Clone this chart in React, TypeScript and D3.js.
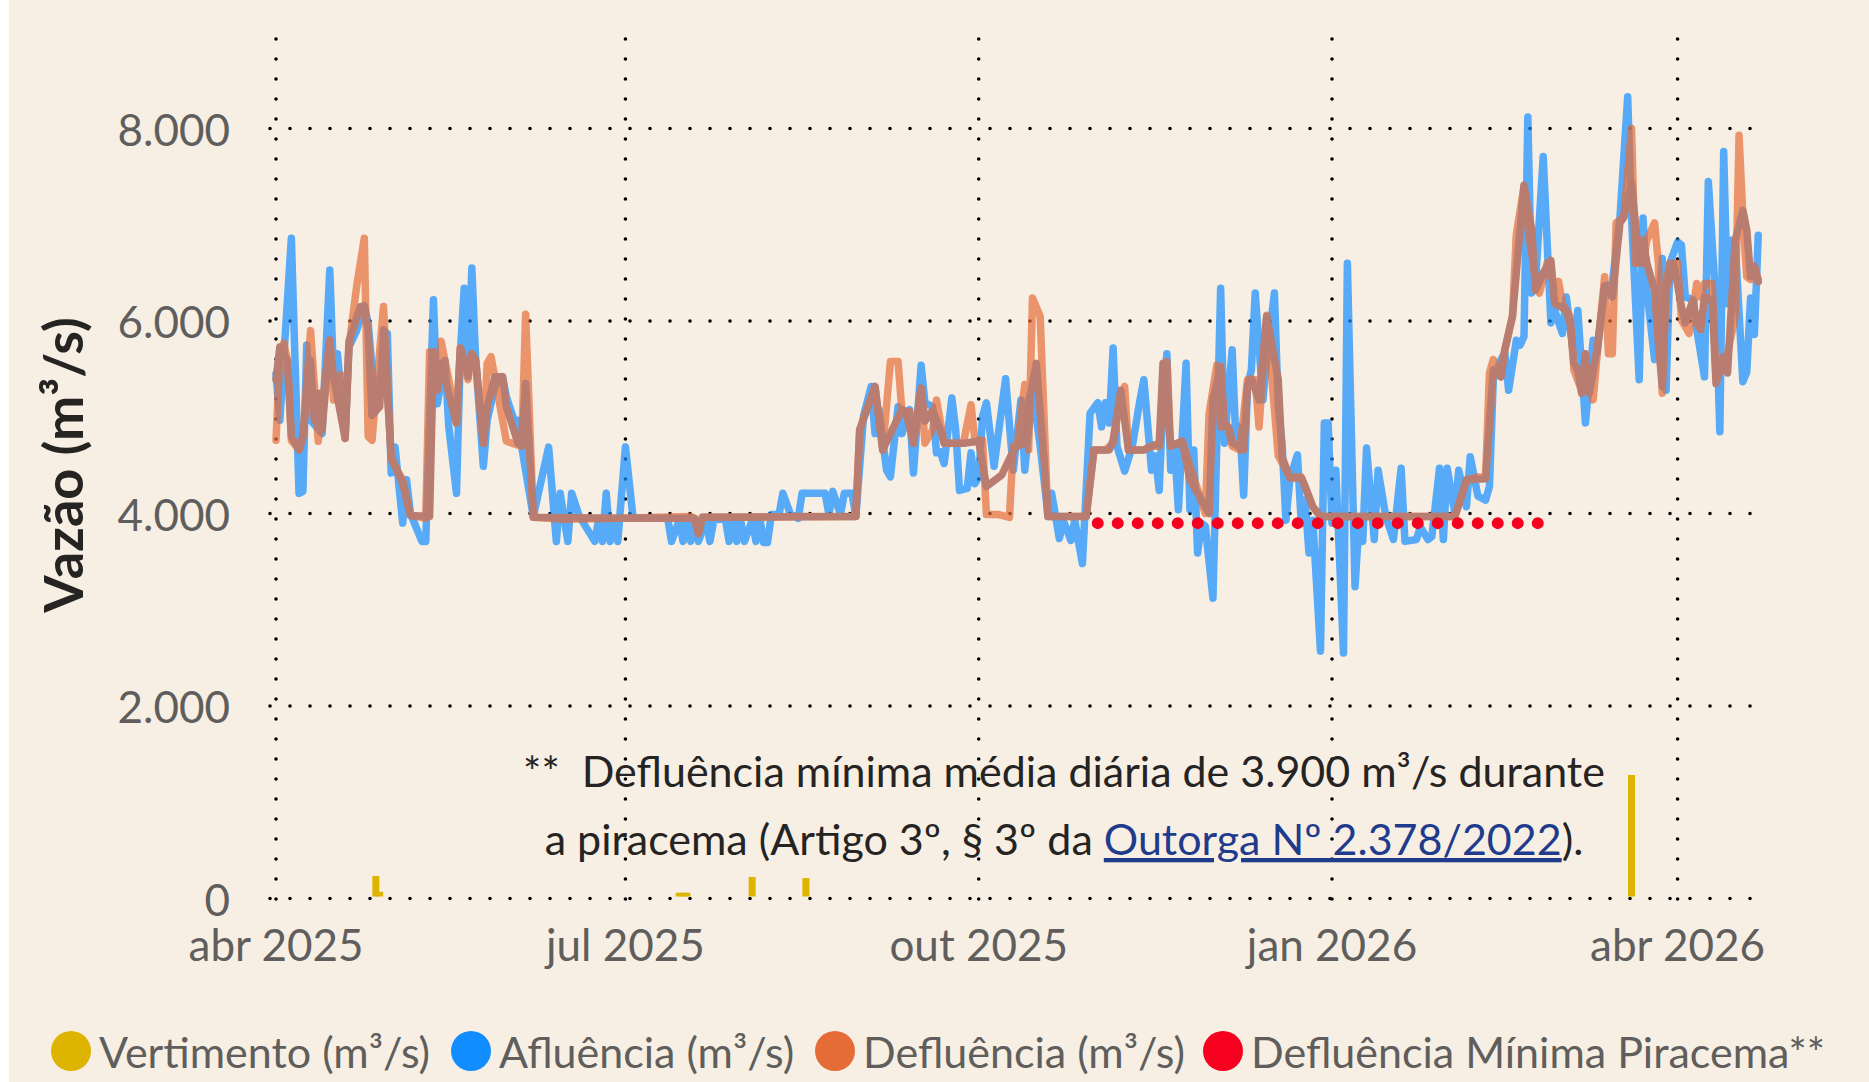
import React from 'react';
import * as d3 from 'd3';

const W = 1869;
const H = 1082;

// first day of the series (day index 0)
const inicio = new Date(2025, 3, 1);
const meses = ['jan', 'fev', 'mar', 'abr', 'mai', 'jun', 'jul', 'ago', 'set', 'out', 'nov', 'dez'];
const yTicks = [0, 2000, 4000, 6000, 8000];

// [day since inicio, m3/s]
const afluencia: [number, number][] = [
  [0, 5450], [1, 4970], [4, 6860], [6, 4210], [7, 4230], [8, 5750], [9, 4970], [12, 4830], [14, 6530], [15, 5420],
  [16, 5660], [18, 4800], [19, 5730], [21, 5900], [23, 6160], [24, 5970], [26, 5080], [29, 5870], [30, 4420], [31, 4690],
  [33, 3900], [34, 4350], [35, 4000], [38, 3710], [39, 3710], [41, 6220], [42, 5140], [44, 5590], [45, 4900], [47, 4210],
  [48, 5660], [49, 6340], [50, 5420], [51, 6550], [52, 5590], [54, 4490], [55, 4970], [57, 5320], [59, 5420], [60, 5210],
  [62, 4970], [63, 4970], [64, 4690], [67, 3970], [71, 4690], [73, 3710], [74, 4210], [76, 3710], [77, 4210], [79, 3970],
  [83, 3710], [84, 3930], [85, 3710], [86, 4210], [87, 3710], [88, 3930], [89, 3710], [91, 4690], [93, 3950], [102, 3950],
  [103, 3710], [105, 3930], [106, 3710], [107, 3930], [108, 3710], [109, 3930], [110, 3710], [112, 3930], [113, 3710], [114, 3930],
  [117, 3950], [118, 3710], [119, 3930], [120, 3710], [121, 3930], [122, 3710], [124, 3930], [125, 3710], [126, 3950], [127, 3700],
  [128, 3700], [129, 3990], [131, 3990], [132, 4210], [134, 3990], [136, 3950], [137, 4210], [143, 4210], [144, 3990], [145, 4230],
  [147, 3990], [148, 4210], [150, 4210], [151, 3970], [153, 5010], [155, 5320], [156, 4830], [157, 5080], [159, 4450], [160, 4380],
  [162, 5110], [163, 4830], [165, 5080], [166, 4420], [168, 5540], [169, 5150], [171, 5110], [172, 4630], [173, 4640], [174, 4520],
  [176, 5200], [177, 4870], [178, 4240], [180, 4260], [181, 4630], [182, 4310], [183, 4380], [184, 5010], [185, 5150], [187, 4490],
  [190, 5400], [192, 4450], [194, 5180], [195, 4450], [197, 5300], [199, 4700], [201, 4000], [202, 4210], [204, 3740], [205, 3930],
  [207, 3720], [208, 3930], [210, 3480], [212, 5040], [214, 5150], [215, 4900], [216, 5150], [217, 4940], [218, 5720], [219, 4700],
  [221, 4440], [223, 4700], [225, 5180], [226, 5390], [228, 4450], [229, 4600], [230, 4240], [231, 5180], [232, 5660], [233, 4450],
  [234, 4700], [235, 4040], [237, 5560], [238, 4040], [239, 4660], [240, 3590], [241, 3900], [242, 3870], [244, 3120], [246, 6340],
  [247, 4730], [249, 5700], [250, 4730], [251, 4900], [252, 4190], [253, 5320], [254, 5490], [255, 6290], [257, 5180], [258, 5600],
  [260, 6290], [261, 5110], [262, 4730], [263, 3930], [264, 4350], [266, 4610], [267, 3900], [268, 4140], [269, 3590], [270, 3930],
  [272, 2570], [273, 4940], [274, 4940], [275, 3900], [276, 4450], [278, 2550], [279, 6600], [281, 3240], [282, 3900], [283, 3710],
  [284, 4680], [286, 3730], [287, 4450], [289, 3970], [291, 3730], [293, 4470], [294, 3710], [297, 3730], [298, 3860], [300, 3730],
  [301, 3760], [303, 4470], [304, 3730], [305, 4470], [307, 4000], [308, 4450], [310, 4070], [311, 4590], [313, 4180], [315, 4140],
  [316, 4280], [317, 5390], [319, 5600], [320, 5670], [321, 5280], [323, 5800], [324, 5750], [325, 5840], [326, 8120], [327, 6290],
  [328, 6400], [330, 7710], [331, 6840], [332, 5980], [333, 6110], [335, 5870], [336, 6250], [338, 5630], [339, 6110], [341, 4940],
  [343, 5800], [344, 5660], [346, 6360], [348, 6390], [350, 7080], [352, 8330], [353, 7080], [355, 5390], [356, 7070], [357, 6320],
  [359, 5600], [361, 6650], [362, 5280], [363, 6600], [365, 6820], [366, 6790], [367, 6250], [369, 6220], [370, 5910], [372, 5420],
  [373, 7450], [375, 6180], [376, 4850], [377, 7760], [378, 6180], [379, 6840], [380, 6810], [382, 5370], [383, 5470], [384, 6240],
  [385, 5860], [386, 6890],
];

const defluencia: [number, number][] = [
  [0, 4760], [1, 5660], [2, 5770], [3, 5590], [4, 4760], [6, 4660], [7, 4800], [9, 5900], [11, 4750], [14, 5800],
  [15, 5180], [17, 5440], [18, 4780], [19, 5730], [21, 6360], [23, 6860], [24, 4800], [25, 4760], [28, 6150], [30, 4560],
  [33, 4350], [35, 3980], [39, 3950], [40, 5680], [42, 5350], [43, 5790], [45, 5390], [47, 4940], [48, 5720], [50, 5390],
  [51, 5660], [52, 5590], [54, 4730], [55, 5560], [56, 5630], [59, 4970], [60, 4750], [63, 4710], [64, 4700], [65, 6070],
  [67, 3960], [75, 3940], [90, 3950], [100, 3960], [108, 3970], [109, 3950], [110, 3790], [111, 3960], [120, 3960], [135, 3970],
  [151, 3970], [152, 4870], [156, 5320], [158, 4660], [160, 5580], [162, 5580], [163, 5060], [165, 5060], [166, 4730], [168, 5300],
  [169, 4730], [171, 4870], [172, 5180], [174, 4730], [179, 4730], [181, 5130], [182, 4760], [184, 4760], [185, 3990], [188, 3990],
  [191, 3960], [192, 4700], [193, 4700], [195, 5340], [196, 4660], [197, 6240], [199, 6050], [201, 3970], [211, 3970], [213, 4660],
  [216, 4660], [218, 4730], [219, 4970], [221, 5320], [222, 4660], [226, 4660], [228, 4700], [230, 4700], [231, 5110], [232, 5580],
  [233, 4700], [236, 4750], [242, 4000], [243, 5040], [245, 5540], [246, 4900], [248, 4900], [249, 4700], [251, 4660], [253, 5390],
  [255, 5390], [256, 4900], [258, 6060], [261, 4600], [264, 4380], [267, 4380], [268, 4280], [270, 4070], [272, 3970], [307, 3970],
  [310, 4350], [313, 4380], [315, 4380], [316, 5460], [317, 5600], [319, 5420], [320, 5700], [322, 6050], [323, 6900], [325, 7400],
  [326, 6980], [328, 6430], [329, 6290], [331, 6600], [333, 6360], [334, 6410], [335, 6180], [337, 6050], [338, 5490], [340, 5280],
  [341, 5560], [343, 5180], [344, 5630], [346, 6460], [347, 5660], [348, 5660], [349, 7020], [351, 7080], [353, 8000], [354, 6600],
  [356, 6600], [357, 6840], [359, 7020], [360, 6600], [361, 5250], [362, 6390], [363, 6600], [365, 6600], [366, 6010], [368, 5870],
  [370, 6390], [371, 6250], [372, 6390], [374, 6390], [375, 5420], [377, 5530], [378, 5660], [380, 6050], [381, 7930], [382, 7080],
  [383, 6460], [384, 6430], [385, 6570], [386, 6430],
];

// brownish trace that runs along the outflow line
const defluenciaMedia: [number, number][] = [
  [0, 5390], [1, 5730], [3, 5590], [4, 4800], [6, 4660], [7, 4800], [9, 5590], [10, 4970], [11, 5250], [12, 4870],
  [14, 5800], [15, 5420], [18, 4780], [19, 5790], [20, 5910], [22, 6150], [23, 6150], [24, 5910], [25, 5020], [27, 5110],
  [28, 5910], [30, 4590], [33, 4310], [35, 3980], [40, 3970], [41, 5680], [42, 5280], [43, 5560], [45, 5250], [47, 4940],
  [48, 5720], [50, 5460], [51, 5660], [52, 5590], [54, 4730], [55, 5110], [57, 5420], [59, 5420], [60, 5110], [63, 4730],
  [64, 4700], [65, 5350], [67, 3960], [90, 3950], [109, 3950], [110, 3790], [111, 3960], [151, 3970], [152, 4870], [156, 5320],
  [158, 4660], [163, 5080], [164, 5060], [166, 4730], [168, 5300], [169, 4960], [171, 5070], [173, 4870], [174, 4730], [179, 4730],
  [183, 4750], [185, 4280], [189, 4400], [192, 4650], [193, 4700], [195, 4730], [196, 5150], [198, 5560], [200, 4560], [201, 3970],
  [211, 3970], [213, 4660], [217, 4660], [218, 4760], [220, 5280], [222, 4660], [226, 4660], [228, 4700], [230, 4730], [231, 5560],
  [233, 4700], [236, 4750], [238, 4350], [243, 4000], [244, 5180], [246, 5530], [247, 4940], [248, 4900], [249, 4740], [252, 4660],
  [253, 5320], [254, 5400], [256, 5180], [258, 6050], [261, 5390], [262, 4590], [264, 4370], [267, 4370], [268, 4280], [270, 4070],
  [272, 3970], [307, 3970], [309, 4210], [310, 4350], [315, 4360], [317, 5490], [319, 5420], [320, 5700], [322, 6050], [325, 7410],
  [327, 6950], [328, 6320], [330, 6500], [332, 6630], [333, 6180], [334, 6160], [336, 6110], [337, 5980], [338, 5560], [339, 5490],
  [340, 5250], [341, 5660], [342, 5250], [344, 5700], [346, 6360], [348, 6250], [350, 7020], [351, 7080], [353, 7430], [355, 6600],
  [356, 6840], [357, 6600], [359, 6320], [360, 5770], [361, 5320], [362, 6320], [364, 6600], [366, 6150], [367, 5980], [369, 6220],
  [370, 5980], [371, 5910], [372, 6250], [374, 6220], [375, 5350], [377, 5630], [378, 5460], [380, 6840], [382, 7150], [383, 6950],
  [384, 6460], [385, 6570], [386, 6410],
];

const vertimentoDatas = ['2025-04-27', '2025-04-28', '2025-07-15', '2025-07-16', '2025-07-17', '2025-08-03', '2025-08-17', '2026-03-20'];
const vertimentoVazao = [234, 70, 60, 60, 60, 224, 213, 1283];

const piracemaDatas = ['2025-11-01', '2026-02-28'];
const piracemaVazao = [3900, 3900];

const legenda = [
  { nome: 'Vertimento (m³/s)', cor: '#DDB400', cx: 71 },
  { nome: 'Afluência (m³/s)', cor: '#118DFF', cx: 471 },
  { nome: 'Defluência (m³/s)', cor: '#E66C37', cx: 835 },
  { nome: 'Defluência Mínima Piracema**', cor: '#F5001E', cx: 1223 },
];

const FONT = 'Lato, "Open Sans", sans-serif';

const App: React.FC = () => {
  const parse = d3.timeParse('%Y-%m-%d');
  const dia = (d: number) => d3.timeDay.offset(inicio, d);

  const x = d3.scaleTime()
    .domain([inicio, new Date(2026, 3, 1)])
    .range([276, 1677.6]);
  const y = d3.scaleLinear()
    .domain([0, 8000])
    .range([898.5, 128.5]);

  const plot = { left: 270, right: 1752, top: 39, bottom: 901 };
  const fmt = d3.formatLocale({ decimal: ',', thousands: '.', grouping: [3], currency: ['R$', ''] }).format(',');
  const xTicks = x.ticks(d3.timeMonth.every(3) as d3.TimeInterval);

  const line = d3.line<[Date, number]>()
    .x(d => x(d[0]))
    .y(d => y(d[1]));
  const serie = (s: [number, number][]) => line(s.map(([d, v]) => [dia(d), v] as [Date, number])) || '';

  const piracema = line(piracemaDatas.map((d, i) => [parse(d) as Date, piracemaVazao[i]] as [Date, number])) || '';
  const barW = 7;
  const lw = 7.5;

  return (
    <svg width={W} height={H} style={{ position: 'absolute', left: 0, top: 0, fontFamily: FONT }}>
      <rect x={0} y={0} width={W} height={H} fill="#ffffff" />
      <rect x={9} y={0} width={W - 9} height={H} fill="#F7EFE4" />

      {/* grid */}
      {yTicks.map(t => (
        <line key={'h' + t} x1={plot.left} x2={plot.right} y1={y(t)} y2={y(t)}
          stroke="#000" strokeWidth={3.6} strokeDasharray="0 20" strokeLinecap="round" />
      ))}
      {xTicks.map(t => (
        <line key={'v' + t.getTime()} x1={x(t)} x2={x(t)} y1={plot.top} y2={plot.bottom}
          stroke="#000" strokeWidth={3.6} strokeDasharray="0 20" strokeLinecap="round" />
      ))}

      {/* y axis */}
      {yTicks.map(t => (
        <text key={'yl' + t} x={230} y={y(t)} textAnchor="end" dominantBaseline="central"
          fontSize={44} fill="#605E5C">{fmt(t)}</text>
      ))}
      <text transform="translate(62,465) rotate(-90)" textAnchor="middle" dominantBaseline="central"
        fontSize={54} fontWeight={700} fill="#252423">Vazão (m³/s)</text>

      {/* x axis */}
      {xTicks.map(t => (
        <text key={'xl' + t.getTime()} x={x(t)} y={961} textAnchor="middle" fontSize={44} fill="#605E5C">
          {`${meses[t.getMonth()]} ${t.getFullYear()}`}
        </text>
      ))}

      {/* spill columns */}
      {vertimentoDatas.map((d, i) => {
        const cx = x(parse(d) as Date);
        return (
          <rect key={'b' + d} x={cx - barW / 2} y={y(vertimentoVazao[i])} width={barW}
            height={y(0) - y(vertimentoVazao[i]) - 2} fill="#DDB400" />
        );
      })}

      {/* lines */}
      <path d={serie(afluencia)} fill="none" stroke="#118DFF" strokeOpacity={0.7} strokeWidth={lw}
        strokeLinejoin="round" strokeLinecap="round" />
      <path d={serie(defluencia)} fill="none" stroke="#E66C37" strokeOpacity={0.7} strokeWidth={lw}
        strokeLinejoin="round" strokeLinecap="round" />
      <path d={serie(defluenciaMedia)} fill="none" stroke="#B87D70" strokeWidth={lw}
        strokeLinejoin="round" strokeLinecap="round" />
      <path d={piracema} fill="none" stroke="#F5001E" strokeWidth={12} strokeDasharray="0 20" strokeLinecap="round" />

      {/* note */}
      <g fontSize={43} fill="#252423" textAnchor="middle">
        <text x={1064} y={787} xmlSpace="preserve">{'**  Defluência mínima média diária de 3.900 m³/s durante'}</text>
        <text x={1064} y={855} xmlSpace="preserve">
          <tspan>{'a piracema (Artigo 3º, § 3º da '}</tspan>
          <tspan fill="#1F3C8C" textDecoration="underline">Outorga Nº 2.378/2022</tspan>
          <tspan>).</tspan>
        </text>
      </g>

      {/* legend */}
      {legenda.map(l => (
        <g key={l.nome}>
          <circle cx={l.cx} cy={1051} r={20} fill={l.cor} />
          <text x={l.cx + 28} y={1068} fontSize={43} fill="#605E5C">{l.nome}</text>
        </g>
      ))}
    </svg>
  );
};

export default App;
